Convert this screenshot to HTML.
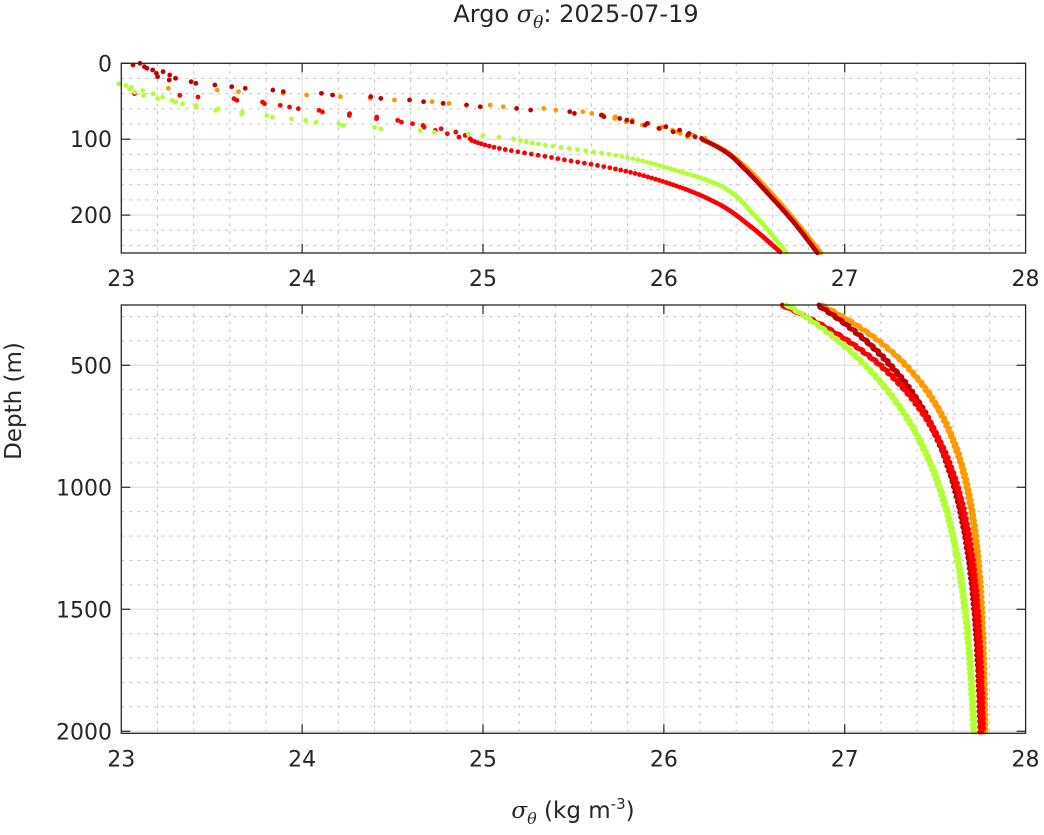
<!DOCTYPE html>
<html><head><meta charset="utf-8"><style>
body{margin:0;background:#fff;}
svg{display:block;font-family:"DejaVu Sans","Liberation Sans",sans-serif;}
</style></head><body>
<svg id="s" width="1044" height="835" xmlns="http://www.w3.org/2000/svg">
<rect width="1044" height="835" fill="#fff"/>
<g id="grid"></g>
<g id="data"></g>
<g id="axes"></g>
<text x="576" y="22" font-size="24" text-anchor="middle" fill="#262626">Argo <tspan font-family="DejaVu Serif" font-style="italic">σ<tspan font-size="17" dy="6">θ</tspan></tspan><tspan dy="-6">: 2025-07-19</tspan></text>
<text x="573" y="818" font-size="23" text-anchor="middle" fill="#262626"><tspan font-family="DejaVu Serif" font-style="italic">σ<tspan font-size="16" dy="6">θ</tspan></tspan><tspan dy="-6"> (kg m</tspan><tspan font-size="15" dy="-9">-3</tspan><tspan dy="9">)</tspan></text>
<text transform="translate(21,401) rotate(-90)" font-size="23" text-anchor="middle" fill="#262626">Depth (m)</text>
</svg>
<script>
const NS="http://www.w3.org/2000/svg";
function el(p,t,a){const e=document.createElementNS(NS,t);for(const k in a)e.setAttribute(k,a[k]);p.appendChild(e);return e;}
const G=document.getElementById('grid'),D=document.getElementById('data'),A=document.getElementById('axes');
const X0=121.3,XS=180.85;
const sx=v=>X0+(v-23)*XS;
const P=[{top:63.3,bot:253,d0:0,d1:250,ys:v=>63.3+v*0.759,maj:[0,100,200],minStep:20},
         {top:305,bot:733.3,d0:253,d1:2008,ys:v=>305+(v-253)*0.244,maj:[500,1000,1500,2000],minStep:100}];
P.forEach(p=>{
  for(let v=23.2;v<28;v+=0.2){const x=sx(v);if(Math.abs(v-Math.round(v))<0.01)continue;
    el(G,'line',{x1:x,x2:x,y1:p.top,y2:p.bot,stroke:'#c4c4c4','stroke-width':1,'stroke-dasharray':'3,5'});}
  for(let d=0;d<=p.d1;d+=p.minStep){if(d<p.d0||p.maj.includes(d))continue;const y=p.ys(d);
    el(G,'line',{x1:X0,x2:1025.6,y1:y,y2:y,stroke:'#c4c4c4','stroke-width':1,'stroke-dasharray':'3,5'});}
  for(let v=24;v<28;v++){const x=sx(v);el(G,'line',{x1:x,x2:x,y1:p.top,y2:p.bot,stroke:'#dcdcdc','stroke-width':1});
    el(A,'line',{x1:x,x2:x,y1:p.bot,y2:p.bot-9,stroke:'#262626','stroke-width':1.2});
    el(A,'line',{x1:x,x2:x,y1:p.top,y2:p.top+9,stroke:'#262626','stroke-width':1.2});}
  for(let v=23;v<=28;v++){const t=el(A,'text',{x:sx(v),y:p.bot+33,'font-size':22,'text-anchor':'middle',fill:'#262626'});t.textContent=v;}
  p.maj.forEach(d=>{const y=p.ys(d);
    if(d>0)el(G,'line',{x1:X0,x2:1025.6,y1:y,y2:y,stroke:'#dcdcdc','stroke-width':1});
    el(A,'line',{x1:X0,x2:X0+9,y1:y,y2:y,stroke:'#262626','stroke-width':1.2});
    el(A,'line',{x1:1025.6,x2:1016.6,y1:y,y2:y,stroke:'#262626','stroke-width':1.2});
    const t=el(A,'text',{x:112,y:y+8,'font-size':22,'text-anchor':'end',fill:'#262626'});t.textContent=d;});
  el(A,'rect',{x:X0,y:p.top,width:1025.6-X0,height:p.bot-p.top,fill:'none',stroke:'#262626','stroke-width':1.3});
});
function mono(pts){const n=pts.length,x=pts.map(p=>p[0]),y=pts.map(p=>p[1]);const dl=[],m=[];
  for(let i=0;i<n-1;i++)dl.push((y[i+1]-y[i])/(x[i+1]-x[i]));
  m[0]=dl[0];m[n-1]=dl[n-2];
  for(let i=1;i<n-1;i++){m[i]=(dl[i-1]*dl[i]<=0)?0:(dl[i-1]+dl[i])/2;}
  return d=>{if(d<=x[0])return y[0];if(d>=x[n-1])return y[n-1];let i=0;while(d>x[i+1])i++;
    const h=x[i+1]-x[i],t=(d-x[i])/h,t2=t*t,t3=t2*t;
    return (2*t3-3*t2+1)*y[i]+(t3-2*t2+t)*h*m[i]+(-2*t3+3*t2)*y[i+1]+(t3-t2)*h*m[i+1];};}
const S=[
 {c:'#ff9900',top:[[33,23.3],[40,23.9],[48,24.5],[55,25.0],[63,25.5],[78,25.85],[92,26.1],[110,26.3],[130,26.42],[160,26.55],[200,26.7],[250,26.87]],
  bot:[27.78,0.91,342],s0:33},
 {c:'#c00000',top:[[0,23.07],[5,23.12],[10,23.2],[22,23.3],[35,23.8],[45,24.4],[57,25.0],[65,25.5],[80,25.9],[95,26.15],[115,26.33],[140,26.45],[170,26.57],[210,26.72],[250,26.85]],
  bot:[27.77,0.92,428],s0:0},
 {c:'#ff0000',top:[[40,23.1],[45,23.5],[60,24.0],[75,24.5],[90,24.8],[110,25.05],[125,25.4],[140,25.75],[160,26.05],[185,26.3],[215,26.48],[250,26.65]],
  bot:[27.77,1.12,369],s0:40},
 {c:'#b3ff33',top:[[27,23.0],[45,23.2],[60,23.5],[75,24.0],[85,24.4],[95,25.0],[108,25.35],[122,25.75],[140,26.05],[160,26.3],[200,26.5],[250,26.68]],
  bot:[27.74,1.06,470],s0:27}
];
S.forEach((s,k)=>{
  const p=P[0];const f=mono(s.top);
  for(let d=s.s0;d<=250;d+=(d<100?2.2:1.5)){
    const v=f(d)+(d<100?(Math.sin(d*7+k)*0.04):0);
    el(D,'circle',{cx:sx(v),cy:p.ys(d),r:2.4,fill:s.c});
  }
  const q=P[1];let pts=[];const [si,Am,L]=s.bot;
  for(let d=253;d<=2005;d+=5){const v=si-Am*Math.exp(-(d-253)/L)+Math.sin(d*0.3+k)*0.008;pts.push(sx(v).toFixed(1)+','+q.ys(d).toFixed(1));}
  el(D,'polyline',{points:pts.join(' '),fill:'none',stroke:s.c,'stroke-width':5,'stroke-linecap':'round','stroke-linejoin':'round'});
});
</script>
</body></html>
